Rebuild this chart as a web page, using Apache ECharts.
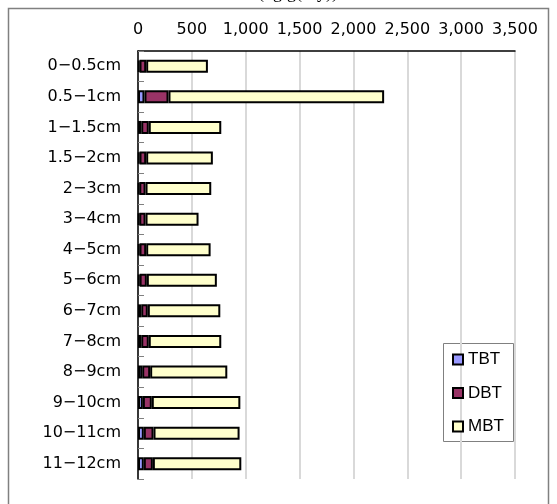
<!DOCTYPE html>
<html>
<head>
<meta charset="utf-8">
<script src="https://cdn.jsdelivr.net/npm/echarts@6/dist/echarts.min.js"></script>
<style>
  html, body { margin: 0; padding: 0; background: #ffffff; }
  #chart { width: 557px; height: 504px; }
</style>
</head>
<body>
<div id="chart"></div>
<script>
// Sediment depth layers (top to bottom)
const depths = ['0−0.5cm', '0.5−1cm', '1−1.5cm', '1.5−2cm', '2−3cm', '3−4cm', '4−5cm',
  '5−6cm', '6−7cm', '7−8cm', '8−9cm', '9−10cm', '10−11cm', '11−12cm'];

// Butyltin concentrations, ng/g (dry)
const tbt = [14, 60, 30, 14, 12, 12, 14, 15, 30, 30, 39, 45, 54, 54];
const dbt = [62, 223, 70, 62, 58, 58, 62, 67, 61, 70, 74, 83, 90, 84];
const mbt = [573, 2002, 673, 619, 610, 492, 598, 650, 673, 673, 716, 822, 799, 821];

const seriesNames = ['TBT', 'DBT', 'MBT'];
const seriesColors = ['#9999FF', '#993366', '#FFFFCC'];
const seriesData = [tbt, dbt, mbt];

// Value axis range and step
const axisMin = 0, axisMax = 3500, axisStep = 500;

const axisFont = '"DejaVu Sans", "Noto Sans CJK JP", sans-serif';
const legendFont = '"Liberation Sans", "Noto Sans CJK JP", sans-serif';

const chart = echarts.init(document.getElementById('chart'), null, { renderer: 'canvas' });

chart.setOption({
  animation: false,
  backgroundColor: '#ffffff',
  grid: { left: 138, right: 42, top: 51, bottom: 25, containLabel: false },
  xAxis: {
    type: 'value',
    position: 'top',
    min: axisMin,
    max: axisMax,
    interval: axisStep,
    axisLine: { show: true, lineStyle: { color: '#000000', width: 1.5 } },
    axisTick: { show: false },
    axisLabel: {
      color: '#000000',
      fontSize: 16,
      fontFamily: axisFont,
      margin: 13,
      formatter: v => v.toLocaleString('en-US')
    },
    splitLine: { show: true, lineStyle: { color: '#d9d9d9', width: 2 } }
  },
  yAxis: {
    type: 'category',
    data: depths,
    inverse: true,
    axisLine: { show: true, lineStyle: { color: '#000000', width: 1.5 } },
    axisTick: { show: true, inside: true, length: 6, lineStyle: { color: '#808080', width: 1 } },
    axisLabel: { color: '#000000', fontSize: 16, fontFamily: axisFont, margin: 17 }
  },
  legend: {
    data: seriesNames,
    orient: 'vertical',
    left: 452,
    top: 351,
    itemWidth: 10,
    itemHeight: 10,
    itemGap: 16.5,
    padding: 0,
    icon: 'rect',
    textStyle: { color: '#000000', fontSize: 17, fontFamily: legendFont, lineHeight: 17 }
  },
  graphic: [
    {
      type: 'rect',
      silent: true,
      z: -1,
      shape: { x: 8.5, y: 8.5, width: 540, height: 520 },
      style: { fill: 'none', stroke: '#808080', lineWidth: 1.5 }
    },
    {
      type: 'rect',
      silent: true,
      z: 0,
      shape: { x: 443.5, y: 343.5, width: 70, height: 98 },
      style: { fill: '#ffffff', stroke: '#808080', lineWidth: 1 }
    },
    {
      type: 'text',
      silent: true,
      left: 222,
      top: -16,
      style: {
        text: '濃度(ng/g(dry))',
        fill: '#000000',
        font: '18px "Liberation Serif", "Noto Sans CJK JP", serif'
      }
    }
  ],
  series: seriesNames.map((name, i) => ({
    name: name,
    type: 'bar',
    stack: 'butyltin',
    barWidth: 13,
    data: seriesData[i],
    itemStyle: { color: seriesColors[i], borderColor: '#000000', borderWidth: 2 },
    z: 2
  }))
});
</script>
</body>
</html>
